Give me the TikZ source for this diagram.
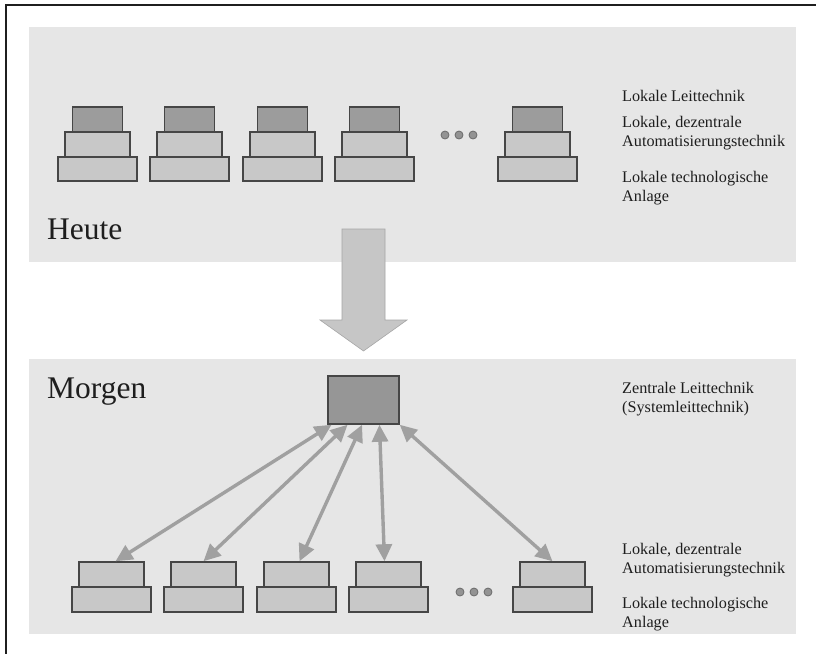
\documentclass[tikz,border=0pt]{standalone}
\usepackage{fontspec}
\setmainfont{Liberation Serif}
\usetikzlibrary{arrows.meta,calc}
\definecolor{panelgray}{HTML}{E6E6E6}
\definecolor{leitfill}{HTML}{9C9C9C}
\definecolor{autofill}{HTML}{C8C8C8}
\definecolor{edgegray}{HTML}{464646}
\definecolor{linkgray}{HTML}{A0A0A0}
\definecolor{bigarrow}{HTML}{C6C6C6}
\definecolor{textgray}{HTML}{1E1E1E}
\tikzset{
  layerbox/.style={draw=edgegray, line width=1.5pt, inner sep=0pt, minimum height=25pt},
  leitbox/.style={layerbox, fill=leitfill, minimum width=50pt},
  midbox/.style={layerbox, fill=autofill, minimum width=65pt},
  basebox/.style={layerbox, fill=autofill, minimum width=79pt, minimum height=24pt},
  label/.style={anchor=west, inner sep=0pt, align=left, text=textgray,
    font=\fontsize{16.2}{19}\selectfont},
  title/.style={anchor=base west, inner sep=0pt, text=textgray,
    font=\fontsize{31.5}{36}\selectfont},
  link/.style={draw=linkgray, line width=3.4pt,
    {Triangle[length=17pt,width=16pt]}-{Triangle[length=17pt,width=16pt]}},
  moredots/.style={circle, fill=gray!85, draw=edgegray!80, line width=0.8pt,
    inner sep=0pt, minimum size=8pt}
}
\begin{document}
\begin{tikzpicture}[x=1pt,y=-1pt]
\useasboundingbox (0,0) rectangle (816,654);
\fill[white] (0,0) rectangle (816,654);

% frame lines (top and left)
\draw[line width=2pt, black!88] (816,5) -- (6,5) -- (6,654);

% panels
\fill[panelgray] (29,27) rectangle (796,262);
\fill[panelgray] (29,359) rectangle (796,634);

% transition arrow
\draw[draw=gray!70, fill=bigarrow, line width=0.6pt]
  (342,229) -- (385,229) -- (385,320) -- (407,320) -- (363.5,351)
  -- (320,320) -- (342,320) -- cycle;

% today: local stacks
\foreach \i/\cx in {1/97.5, 2/189.5, 3/282.5, 4/374.5, 5/537.5} {
  \node[basebox] (hb\i) at (\cx,169) {};
  \node[midbox]  (hm\i) at (\cx,144.5) {};
  \node[leitbox] (hl\i) at (\cx,119.5) {};
}
\foreach \i/\cx in {1/445, 2/459, 3/473}
  \node[moredots] (hd\i) at (\cx,135) {};

\node[label] (hlab1) at (622,96) {Lokale Leittechnik};
\node[label] (hlab2) at (622,133) {Lokale, dezentrale\\Automatisierungstechnik};
\node[label] (hlab3) at (622,188) {Lokale technologische\\Anlage};
\node[title] (heute) at (47,239) {Heute};

% tomorrow: central control
\node[title] (morgen) at (47,398) {Morgen};
\node[layerbox, fill=leitfill!96!black, minimum width=71pt, minimum height=48pt]
  (zl) at (363.5,400) {};
\node[label] (mlab1) at (622,399) {Zentrale Leittechnik\\(Systemleittechnik)};

\foreach \i/\cx in {1/111.5, 2/203.5, 3/296.5, 4/388.5, 5/552.5} {
  \node[basebox, minimum height=25pt] (mb\i) at (\cx,599.5) {};
  \node[midbox] (ma\i) at (\cx,574.5) {};
}
\foreach \i/\cx in {1/460, 2/474, 3/488}
  \node[moredots] (md\i) at (\cx,592) {};

\node[label] (mlab2) at (622,560) {Lokale, dezentrale\\Automatisierungstechnik};
\node[label] (mlab3) at (622,614) {Lokale technologische\\Anlage};

% links between central and local automation
\foreach \i/\f in {1/0.06, 2/0.28, 3/0.48, 4/0.72, 5/1.0}
  \coordinate (zp\i) at ($(zl.south west)!\f!(zl.south east)$);
\draw[link] (zp1) -- ($(ma1.north)+(4,0)$);
\draw[link] (zp2) -- (ma2.north);
\draw[link] (zp3) -- ($(ma3.north)+(3,0)$);
\draw[link] (zp4) -- ($(ma4.north)+(-4,0)$);
\draw[link] (zp5) -- (ma5.north);
\end{tikzpicture}
\end{document}
